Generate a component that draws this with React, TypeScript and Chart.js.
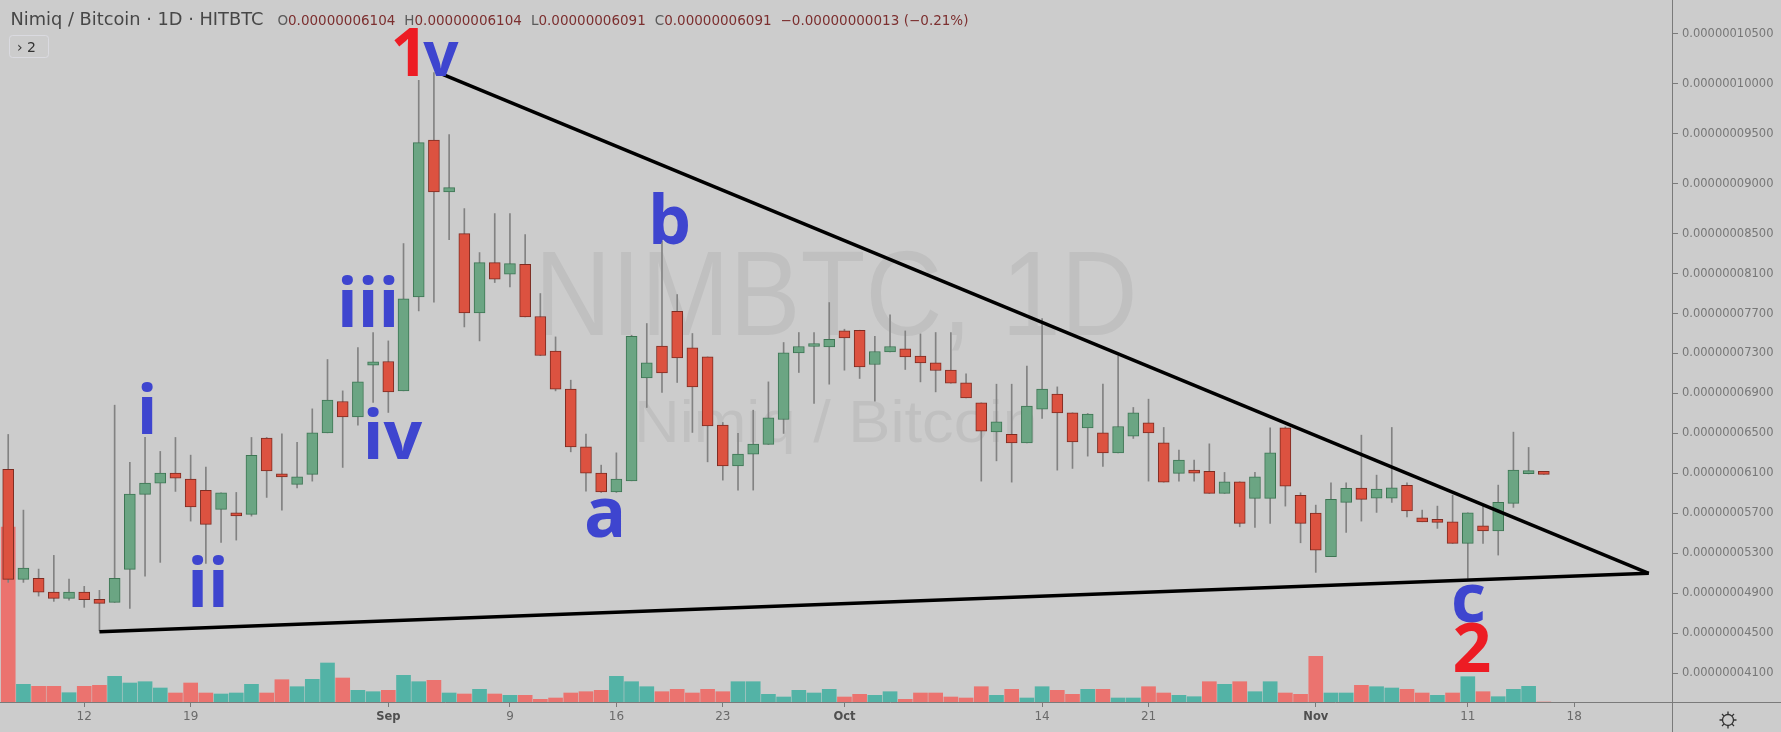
import React, { useEffect, useRef } from 'react';
import { Chart, registerables } from 'chart.js';

Chart.register(...registerables);

// Daily candles, NIM/BTC on HitBTC. Day 0 = 12 Aug; first candle = 7 Aug (day -5), last = 16 Nov (day 96).
// Prices are in units of 1e-11 BTC (6104 -> 0.00000006104).
const firstDay = -5;

const opens: number[] = [
  6140, 5040, 5050, 4913, 4850, 4913, 4840, 4810, 5140, 5890,
  6003, 6103, 6043, 5930, 5740, 5696, 5690, 6453, 6093, 5990,
  6090, 6506, 6820, 6666, 7183, 7220, 6926, 7866, 9436, 8916,
  8500, 7706, 8210, 8093, 8193, 7670, 7323, 6943, 6366, 6103,
  5916, 6026, 7056, 7373, 7723, 7356, 7266, 6583, 6176, 6293,
  6390, 6640, 7306, 7370, 7366, 7526, 7533, 7190, 7316, 7346,
  7273, 7206, 7133, 7006, 6806, 6516, 6490, 6406, 6743, 6893,
  6706, 6556, 6506, 6306, 6473, 6606, 6406, 6100, 6120, 6120,
  5900, 6016, 5850, 5850, 6556, 5880, 5703, 5266, 5810, 5953,
  5853, 5853, 5980, 5656, 5623, 5616, 5400, 5576, 5526, 5800,
  6098, 6104,
];
const highs: number[] = [
  6490, 5733, 5143, 5280, 5043, 4970, 4930, 6783, 6210, 6460,
  6320, 6460, 6283, 6163, 5906, 5910, 6460, 6460, 6496, 6410,
  6746, 7240, 6926, 7360, 7510, 7426, 8400, 10033, 10110, 9490,
  8750, 8310, 8700, 8700, 8490, 7900, 7466, 7033, 6493, 6183,
  6306, 7483, 7600, 8423, 7890, 7500, 7266, 6610, 6500, 6733,
  7016, 7410, 7510, 7510, 7810, 7543, 7533, 7473, 7686, 7526,
  7496, 7510, 7510, 7096, 6806, 6993, 6993, 7173, 7650, 6966,
  6706, 6700, 6993, 7273, 6760, 6843, 6560, 6333, 6233, 6396,
  6110, 6016, 6110, 6556, 6566, 5906, 5783, 6006, 6006, 6483,
  6083, 6560, 6006, 5733, 5773, 5883, 5706, 5773, 5983, 6513,
  6360, 6104,
];
const lows: number[] = [
  5010, 5010, 4873, 4820, 4833, 4760, 4526, 4810, 4750, 5073,
  5210, 5920, 5623, 5200, 5410, 5433, 5673, 5860, 5733, 5956,
  6023, 6506, 6160, 6583, 6810, 6710, 6926, 7726, 7813, 8440,
  7566, 7426, 8010, 7966, 7666, 7280, 6926, 6316, 5923, 5910,
  5910, 6026, 6760, 6910, 7010, 6510, 6216, 6033, 5933, 5933,
  6390, 6500, 7110, 6800, 6993, 7133, 7050, 6823, 7316, 7140,
  7016, 6916, 7003, 6856, 6023, 6226, 6013, 6406, 6650, 6133,
  6150, 6273, 6170, 6306, 6450, 6023, 6013, 6023, 6023, 5900,
  5900, 5566, 5560, 5600, 5773, 5406, 5110, 5266, 5510, 5623,
  5710, 5810, 5666, 5616, 5550, 5400, 5050, 5400, 5283, 5760,
  6095, 6091,
];
const closes: number[] = [
  5040, 5153, 4913, 4850, 4913, 4836, 4800, 5050, 5893, 6003,
  6103, 6053, 5766, 5590, 5906, 5676, 6280, 6126, 6066, 6066,
  6506, 6833, 6666, 7016, 7216, 6916, 7846, 9410, 8916, 8960,
  7706, 8210, 8043, 8200, 7666, 7280, 6943, 6366, 6103, 5916,
  6043, 7473, 7206, 7106, 7256, 6966, 6576, 6176, 6293, 6393,
  6656, 7306, 7370, 7380, 7443, 7456, 7166, 7320, 7370, 7266,
  7206, 7130, 7003, 6856, 6523, 6616, 6406, 6773, 6943, 6706,
  6416, 6693, 6306, 6570, 6706, 6506, 6013, 6233, 6103, 5900,
  6016, 5600, 6066, 6306, 5973, 5600, 5333, 5840, 5950, 5840,
  5943, 5956, 5726, 5616, 5610, 5400, 5706, 5526, 5810, 6133,
  6104, 6091,
];
// Volume (relative units) and its bar colour (1 = up/teal, 0 = down/red)
const volumes: number[] = [
  1750, 177, 157, 157, 93, 157, 167, 257, 190, 203,
  140, 90, 190, 90, 80, 90, 177, 90, 223, 153,
  227, 390, 240, 117, 103, 117, 267, 203, 217, 90,
  80, 127, 80, 67, 67, 27, 40, 90, 103, 117,
  257, 203, 153, 103, 127, 90, 127, 103, 203, 203,
  77, 50, 117, 90, 127, 50, 77, 67, 103, 27,
  90, 90, 50, 40, 153, 67, 127, 40, 153, 117,
  77, 127, 127, 40, 40, 153, 90, 67, 53, 203,
  177, 203, 103, 203, 90, 77, 457, 90, 90, 167,
  153, 140, 127, 90, 67, 90, 253, 103, 53, 127,
  157, 0,
];
const volumeUp: number[] = [
  0, 1, 0, 0, 1, 0, 0, 1, 1, 1,
  1, 0, 0, 0, 1, 1, 1, 0, 0, 1,
  1, 1, 0, 1, 1, 0, 1, 1, 0, 1,
  0, 1, 0, 1, 0, 0, 0, 0, 0, 0,
  1, 1, 1, 0, 0, 0, 0, 0, 1, 1,
  1, 1, 1, 1, 1, 0, 0, 1, 1, 0,
  0, 0, 0, 0, 0, 1, 0, 1, 1, 0,
  0, 1, 0, 1, 1, 0, 0, 1, 1, 0,
  1, 0, 1, 1, 0, 0, 0, 1, 1, 0,
  1, 1, 0, 0, 1, 0, 1, 0, 1, 1,
  1, 0,
];

// Axis ticks
const xTickDays: number[] = [0, 7, 20, 28, 35, 42, 50, 63, 70, 81, 91, 98];
const xTickLabels: string[] = ['12', '19', 'Sep', '9', '16', '23', 'Oct', '14', '21', 'Nov', '11', '18'];
const monthLabels: string[] = ['Sep', 'Oct', 'Nov'];
const yTicks: number[] = [10500, 10000, 9500, 9000, 8500, 8100, 7700, 7300, 6900, 6500, 6100, 5700, 5300, 4900, 4500, 4100];

// Visible ranges
const xRange: number[] = [-5.54, 104.43];
const yRange: number[] = [3813, 10837];
const volumeMax = 7020;

// Triangle trend lines (day, price)
const upperTrendDays: number[] = [23.3, 102.9];
const upperTrendPrices: number[] = [10110, 5100];
const lowerTrendDays: number[] = [1, 102.9];
const lowerTrendPrices: number[] = [4516, 5100];

// Elliott wave labels
const waveTexts: string[] = ['1', 'v', 'iii', 'iv', 'i', 'ii', 'a', 'b', 'c', '2'];
const waveDays: number[] = [22.62, 22.3, 18.67, 20.28, 4.14, 8.14, 34.26, 38.49, 91.04, 91.27];
const wavePrices: number[] = [10073, 10073, 7563, 6240, 6490, 4760, 5466, 8393, 4616, 4110];
const waveSizes: number[] = [66, 62, 68, 68, 68, 68, 70, 68, 68, 68];

const BG = '#cccccc';
const AXIS = '#7a7a7a';
const GREEN = '#6ba583';
const GREEN_BORDER = '#3d7553';
const RED = '#dc5240';
const RED_BORDER = '#7d2c22';
const WAVE_BLUE = '#3e45cf';
const WAVE_RED = '#ed1c24';

function fmtPrice(v: number): string {
  return (v / 1e11).toFixed(11);
}

const overlayPlugin = {
  id: 'overlay',
  beforeDatasetsDraw(chart: any) {
    const { ctx, chartArea } = chart;
    const cx = (chartArea.left + chartArea.right) / 2;
    const fitted = (text: string, y: number, font: string, width: number) => {
      ctx.save();
      ctx.font = font;
      const w = ctx.measureText(text).width;
      ctx.translate(cx, y);
      ctx.scale(width / w, 1);
      ctx.textAlign = 'center';
      ctx.textBaseline = 'alphabetic';
      ctx.fillStyle = 'rgba(0,0,0,0.06)';
      ctx.fillText(text, 0, 0);
      ctx.restore();
    };
    fitted('NIMBTC, 1D', 335, '120px "Liberation Sans"', 603);
    fitted('Nimiq / Bitcoin', 442, '60px "Liberation Sans"', 404);
  },
  afterDraw(chart: any) {
    const { ctx, chartArea, width, height } = chart;
    const xs = chart.scales.x;
    const ys = chart.scales.y;
    ctx.save();
    // axis border lines
    ctx.strokeStyle = AXIS;
    ctx.lineWidth = 1;
    ctx.beginPath();
    ctx.moveTo(0, Math.round(chartArea.bottom) + 0.5);
    ctx.lineTo(width, Math.round(chartArea.bottom) + 0.5);
    ctx.moveTo(Math.round(chartArea.right) + 0.5, 0);
    ctx.lineTo(Math.round(chartArea.right) + 0.5, height);
    ctx.stroke();

    // wave labels
    ctx.textBaseline = 'alphabetic';
    waveTexts.forEach((t, i) => {
      const px = xs.getPixelForValue(waveDays[i]);
      const py = ys.getPixelForValue(wavePrices[i]);
      const isRed = t === '1' || t === '2';
      ctx.fillStyle = isRed ? WAVE_RED : WAVE_BLUE;
      ctx.font = `700 ${waveSizes[i]}px "Open Sans"`;
      ctx.textAlign = t === '1' ? 'right' : t === 'v' ? 'left' : 'center';
      ctx.fillText(t, px, py);
    });

    // header
    const n = closes.length;
    const o = opens[n - 1], h = highs[n - 1], l = lows[n - 1], c = closes[n - 1];
    const chg = c - closes[n - 2];
    const pct = (chg / closes[n - 2]) * 100;
    ctx.textAlign = 'left';
    ctx.font = '17.8px "DejaVu Sans"';
    ctx.fillStyle = '#474747';
    const title = 'Nimiq / Bitcoin \u00b7 1D \u00b7 HITBTC';
    ctx.fillText(title, 10.5, 25);
    let x = 10.5 + ctx.measureText(title).width + 14;
    ctx.font = '13.5px "DejaVu Sans"';
    const valColor = '#7c2f2f';
    const parts: [string, string][] = [
      ['O', fmtPrice(o)],
      ['H', fmtPrice(h)],
      ['L', fmtPrice(l)],
      ['C', fmtPrice(c)],
      ['', (chg < 0 ? '\u2212' : '+') + fmtPrice(Math.abs(chg))],
      ['', '(' + (pct < 0 ? '\u2212' : '+') + Math.abs(pct).toFixed(2) + '%)'],
    ];
    parts.forEach(([p, v], i) => {
      if (p) {
        ctx.fillStyle = '#5a5a5a';
        ctx.fillText(p, x, 25);
        x += ctx.measureText(p).width;
      }
      ctx.fillStyle = valColor;
      ctx.fillText(v, x, 25);
      x += ctx.measureText(v).width + (i === 4 ? 4.5 : 9);
    });

    // collapsed indicator button
    ctx.strokeStyle = '#dadae0';
    ctx.lineWidth = 1;
    ctx.beginPath();
    const bx = 9.5, by = 35.5, bw = 39, bh = 22, r = 3;
    ctx.moveTo(bx + r, by);
    ctx.arcTo(bx + bw, by, bx + bw, by + bh, r);
    ctx.arcTo(bx + bw, by + bh, bx, by + bh, r);
    ctx.arcTo(bx, by + bh, bx, by, r);
    ctx.arcTo(bx, by, bx + bw, by, r);
    ctx.closePath();
    ctx.stroke();
    ctx.fillStyle = '#333';
    ctx.font = '14px "DejaVu Sans"';
    ctx.fillText('\u203a 2', 17, 52);

    // settings icon
    const gx = 1728, gy = 720;
    ctx.strokeStyle = '#333';
    ctx.lineWidth = 1.3;
    ctx.beginPath();
    ctx.arc(gx, gy, 5.5, 0, Math.PI * 2);
    ctx.stroke();
    ctx.beginPath();
    for (let k = 0; k < 8; k++) {
      const a = (k * Math.PI) / 4;
      ctx.moveTo(gx + Math.cos(a) * 5.5, gy + Math.sin(a) * 5.5);
      ctx.lineTo(gx + Math.cos(a) * 8.5, gy + Math.sin(a) * 8.5);
    }
    ctx.stroke();
    ctx.restore();
  },
};

export default function App() {
  const ref = useRef<HTMLCanvasElement>(null);

  useEffect(() => {
    document.body.style.margin = '0';
    const canvas = ref.current;
    if (!canvas) return;
    const days = opens.map((_, i) => firstDay + i);
    const isUp = (i: number) => closes[i] >= opens[i];

    const chart = new Chart(canvas, {
      type: 'bar',
      data: {
        datasets: [
          {
            type: 'line',
            data: upperTrendDays.map((d, i) => ({ x: d, y: upperTrendPrices[i] })),
            borderColor: '#000',
            borderWidth: 3.5,
            pointRadius: 0,
            tension: 0,
            yAxisID: 'y',
            order: 1,
          } as any,
          {
            type: 'line',
            data: lowerTrendDays.map((d, i) => ({ x: d, y: lowerTrendPrices[i] })),
            borderColor: '#000',
            borderWidth: 3.5,
            pointRadius: 0,
            tension: 0,
            yAxisID: 'y',
            order: 1,
          } as any,
          {
            data: days.map((d, i) => ({ x: d, y: [opens[i], closes[i]] })),
            backgroundColor: days.map((_, i) => (isUp(i) ? GREEN : RED)),
            borderColor: days.map((_, i) => (isUp(i) ? GREEN_BORDER : RED_BORDER)),
            borderWidth: 1,
            borderSkipped: false,
            barThickness: 11,
            minBarLength: 3,
            grouped: false,
            yAxisID: 'y',
            order: 2,
          } as any,
          {
            data: days.map((d, i) => ({ x: d, y: [lows[i], highs[i]] })),
            backgroundColor: '#828282',
            borderWidth: 0,
            barThickness: 1,
            grouped: false,
            yAxisID: 'y',
            order: 3,
          } as any,
          {
            data: days.map((d, i) => ({ x: d, y: volumes[i] })),
            backgroundColor: days.map((_, i) => (volumeUp[i] ? '#53b3a6' : '#eb736f')),
            borderWidth: 0,
            barThickness: 14,
            grouped: false,
            yAxisID: 'yv',
            order: 4,
          } as any,
        ],
      },
      options: {
        responsive: false,
        animation: false,
        devicePixelRatio: 1,
        layout: { padding: 0 },
        plugins: { legend: { display: false }, tooltip: { enabled: false } },
        scales: {
          x: {
            type: 'linear',
            position: 'bottom',
            min: xRange[0],
            max: xRange[1],
            offset: false,
            grid: { drawOnChartArea: false, drawTicks: true, tickLength: 5, color: AXIS, offset: false },
            border: { display: false },
            ticks: {
              autoSkip: false,
              maxRotation: 0,
              padding: 3,
              color: (ctx: any) => (monthLabels.includes(xTickLabels[ctx.index]) ? '#4f4f4f' : '#6a6a6a'),
              font: (ctx: any) =>
                monthLabels.includes(xTickLabels[ctx.index])
                  ? { family: '"DejaVu Sans"', size: 11.5, weight: 'bold' }
                  : { family: '"DejaVu Sans"', size: 12 },
              callback: (v: any) => {
                const k = xTickDays.indexOf(Number(v));
                return k >= 0 ? xTickLabels[k] : '';
              },
            },
            afterBuildTicks: (s: any) => {
              s.ticks = xTickDays.map((v) => ({ value: v }));
            },
            afterFit: (s: any) => {
              s.height = 30;
              s.paddingLeft = 0;
              s.paddingRight = 0;
            },
          },
          y: {
            type: 'linear',
            position: 'right',
            min: yRange[0],
            max: yRange[1],
            grid: { drawOnChartArea: false, drawTicks: true, tickLength: 6, color: AXIS },
            border: { display: false },
            ticks: {
              padding: 4,
              color: '#777777',
              font: { family: '"DejaVu Sans"', size: 11.5 },
              callback: (v: any) => fmtPrice(Number(v)),
            },
            afterBuildTicks: (s: any) => {
              s.ticks = yTicks.map((v) => ({ value: v }));
            },
            afterFit: (s: any) => {
              s.width = 109;
              s.paddingTop = 0;
              s.paddingBottom = 0;
            },
          },
          yv: {
            type: 'linear',
            display: false,
            min: 0,
            max: volumeMax,
          },
        },
      } as any,
      plugins: [overlayPlugin],
    });
    return () => chart.destroy();
  }, []);

  return (
    <div style={{ width: 1781, height: 732, background: BG, position: 'relative' }}>
      <canvas ref={ref} width={1781} height={732} style={{ display: 'block' }} />
    </div>
  );
}
